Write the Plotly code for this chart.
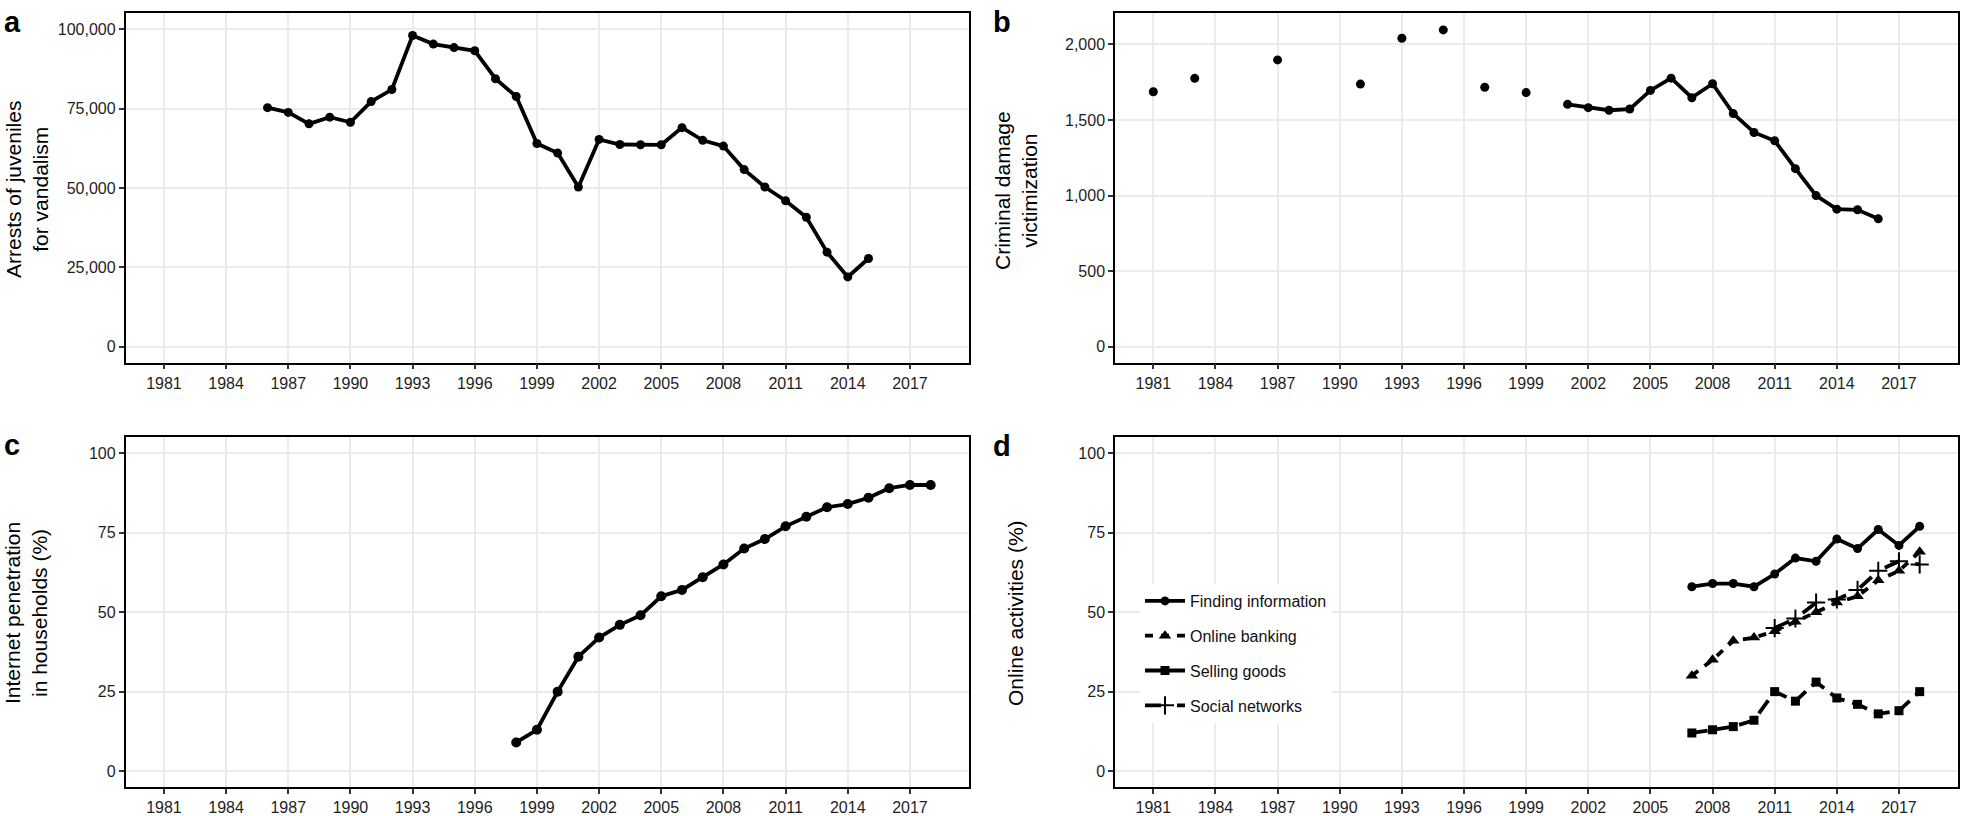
import plotly.graph_objects as go

# ---------------- data ----------------
a_years = list(range(1986, 2016))
a_arrests = [75300, 73800, 70200, 72300, 70700, 77200, 81000, 98000, 95300, 94200,
             93200, 84400, 78800, 64000, 61000, 50300, 65300, 63700, 63600, 63600,
             69000, 65000, 63200, 55800, 50300, 46000, 40800, 29800, 22000, 27800]

b_point_years = [1981, 1983, 1987, 1991, 1993, 1995, 1997, 1999]
b_point_values = [1686, 1775, 1897, 1737, 2040, 2095, 1716, 1681]
b_line_years = list(range(2001, 2017))
b_line_values = [1603, 1581, 1564, 1572, 1695, 1776, 1647, 1739, 1542, 1417, 1362,
                 1178, 1000, 910, 906, 846]

c_years = list(range(1998, 2019))
c_internet = [9, 13, 25, 36, 42, 46, 49, 55, 57, 61, 65, 70, 73, 77, 80, 83, 84, 86, 89, 90, 90]

d_years = list(range(2007, 2019))
d_finding = [58, 59, 59, 58, 62, 67, 66, 73, 70, 76, 71, 77]
d_banking = [30, 35, 41, 42, 44, 47, 50, 53, 55, 60, 63, 69]
d_selling = [12, 13, 14, 16, 25, 22, 28, 23, 21, 18, 19, 25]
d_social_years = list(range(2011, 2019))
d_social = [45, 48, 53, 54, 57, 63, 66, 65]

x_ticks = list(range(1981, 2018, 3))
a_ticks = [0, 25000, 50000, 75000, 100000]
b_ticks = [0, 500, 1000, 1500, 2000]
pct_ticks = [0, 25, 50, 75, 100]

# ---------------- figure ----------------
W, H = 1961, 816
FONT = "Liberation Sans, Arial, Helvetica, sans-serif"
fig = go.Figure()

def px_x(p):
    return p / W

def px_y(p):
    return 1 - p / H

dom_x_left = [px_x(125.6), px_x(969)]
dom_x_right = [px_x(1115), px_x(1958)]
dom_y_top = [px_y(362.7), px_y(13.3)]
dom_y_bot = [px_y(787), px_y(437.3)]

LW = 3.8
MS = 9

# panel a
fig.add_trace(go.Scatter(x=a_years, y=a_arrests, mode="lines+markers",
                         line=dict(color="black", width=LW),
                         marker=dict(color="black", size=MS, symbol="circle"),
                         showlegend=False, xaxis="x", yaxis="y"))
# panel b
fig.add_trace(go.Scatter(x=b_point_years, y=b_point_values, mode="markers",
                         marker=dict(color="black", size=MS, symbol="circle"),
                         showlegend=False, xaxis="x2", yaxis="y2"))
fig.add_trace(go.Scatter(x=b_line_years, y=b_line_values, mode="lines+markers",
                         line=dict(color="black", width=LW),
                         marker=dict(color="black", size=MS, symbol="circle"),
                         showlegend=False, xaxis="x2", yaxis="y2"))
# panel c
fig.add_trace(go.Scatter(x=c_years, y=c_internet, mode="lines+markers",
                         line=dict(color="black", width=LW),
                         marker=dict(color="black", size=MS + 1, symbol="circle"),
                         showlegend=False, xaxis="x3", yaxis="y3"))
# panel d
fig.add_trace(go.Scatter(x=d_years, y=d_finding, mode="lines+markers", name="Finding information",
                         line=dict(color="black", width=LW),
                         marker=dict(color="black", size=MS, symbol="circle"),
                         legendgroup="g1", xaxis="x4", yaxis="y4"))
fig.add_trace(go.Scatter(x=d_years, y=d_banking, mode="lines+markers", name="Online banking",
                         line=dict(color="black", width=LW, dash="8px,8px"),
                         marker=dict(color="black", size=MS + 2, symbol="triangle-up"),
                         legendgroup="g2", xaxis="x4", yaxis="y4"))
fig.add_trace(go.Scatter(x=d_years, y=d_selling, mode="lines+markers", name="Selling goods",
                         line=dict(color="black", width=LW, dash="16px,8px"),
                         marker=dict(color="black", size=MS, symbol="square"),
                         legendgroup="g3", xaxis="x4", yaxis="y4"))
fig.add_trace(go.Scatter(x=d_social_years, y=d_social, mode="lines+markers", name="Social networks",
                         line=dict(color="black", width=LW, dash="16px,16px"),
                         marker=dict(color="black", size=13, symbol="cross-thin",
                                     line=dict(color="black", width=2)),
                         legendgroup="g4", xaxis="x4", yaxis="y4"))

GRID = "#ebebeb"
TICKFONT = dict(family=FONT, size=16, color="#1e1e1e")

def xaxis(domain, anchor):
    return dict(domain=domain, anchor=anchor, range=[1979.15, 2019.85],
                tickmode="array", tickvals=x_ticks, ticks="outside", ticklen=5,
                tickwidth=1.5, tickcolor="#333333", showline=True, linecolor="black",
                linewidth=1.5, mirror=True, showgrid=True, gridcolor=GRID, gridwidth=1.5,
                zeroline=False, tickfont=TICKFONT, automargin=False)

def yaxis(domain, anchor, rng, ticks, fmt=None):
    d = dict(domain=domain, anchor=anchor, range=rng,
             tickmode="array", tickvals=ticks, ticks="outside", ticklen=5,
             tickwidth=1.5, tickcolor="#333333", showline=True, linecolor="black",
             linewidth=1.5, mirror=True, showgrid=True, gridcolor=GRID, gridwidth=1.5,
             zeroline=False, tickfont=TICKFONT, automargin=False)
    if fmt:
        d["tickformat"] = fmt
    return d

fig.update_layout(
    width=W, height=H,
    margin=dict(l=0, r=0, t=0, b=0),
    paper_bgcolor="white", plot_bgcolor="white",
    font=dict(family=FONT, color="black"),
    xaxis=xaxis(dom_x_left, "y"),
    yaxis=yaxis(dom_y_top, "x", [-5000, 105000], a_ticks, ","),
    xaxis2=xaxis(dom_x_right, "y2"),
    yaxis2=yaxis(dom_y_top, "x2", [-105, 2205], b_ticks, ","),
    xaxis3=xaxis(dom_x_left, "y3"),
    yaxis3=yaxis(dom_y_bot, "x3", [-5, 105], pct_ticks),
    xaxis4=xaxis(dom_x_right, "y4"),
    yaxis4=yaxis(dom_y_bot, "x4", [-5, 105], pct_ticks),
    showlegend=True,
    legend=dict(x=px_x(1140), y=px_y(584), xanchor="left", yanchor="top",
                bgcolor="white", borderwidth=0, tracegroupgap=11,
                font=dict(family=FONT, size=16, color="#111111"),
                itemwidth=40),
)

TITLE_FONT = dict(family=FONT, size=21, color="black")
LETTER_FONT = dict(family=FONT, size=29, color="black")
annotations = [
    dict(text="Arrests of juveniles<br>for vandalism", x=px_x(27), y=px_y(190)),
    dict(text="Criminal damage<br>victimization", x=px_x(1016), y=px_y(190)),
    dict(text="Internet penetration<br>in households (%)", x=px_x(26), y=px_y(613)),
    dict(text="Online activities (%)", x=px_x(1015), y=px_y(613)),
]
for an in annotations:
    fig.add_annotation(xref="paper", yref="paper", textangle=-90, showarrow=False,
                       xanchor="center", yanchor="middle", font=TITLE_FONT, **an)

letters = [("a", 2, 22), ("b", 991, 22), ("c", 2, 445), ("d", 991, 446)]
for t, lx, ly in letters:
    fig.add_annotation(xref="paper", yref="paper", text="<b>%s</b>" % t, x=px_x(lx), y=px_y(ly),
                       xanchor="left", yanchor="middle", showarrow=False, font=LETTER_FONT)

fig.write_html("out.html",
               config={"displayModeBar": False},
               post_script="document.body.style.margin='0';document.body.style.padding='0';document.body.style.overflow='hidden';")
